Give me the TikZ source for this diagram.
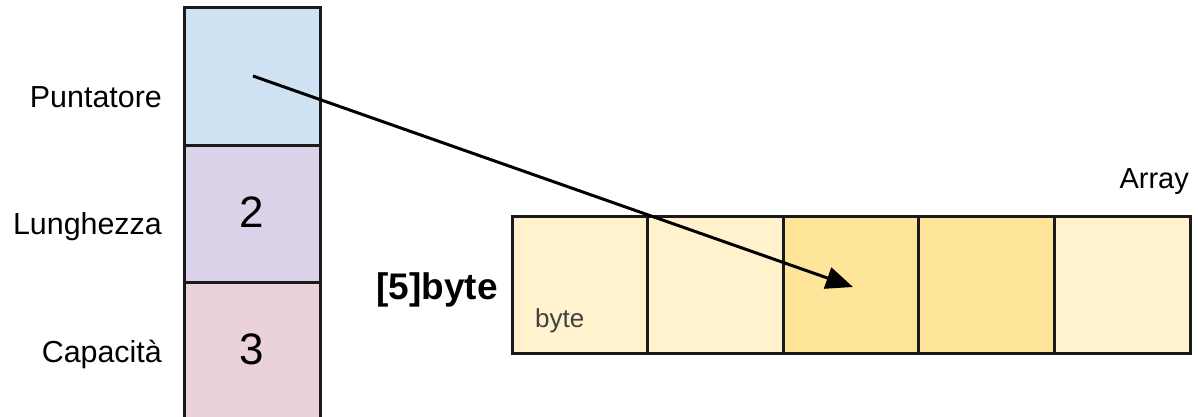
\documentclass[tikz,border=0pt]{standalone}
\usepackage{fontspec}
\setmainfont{Liberation Sans}
\usetikzlibrary{arrows.meta}
\definecolor{ptrblue}{HTML}{CFE2F3}
\definecolor{lenpurple}{HTML}{D9D2E9}
\definecolor{cappink}{HTML}{EAD1DC}
\definecolor{cellpale}{HTML}{FFF2CC}
\definecolor{cellgold}{HTML}{FFE599}
\definecolor{edge}{HTML}{1A1A1A}
\begin{document}
\begin{tikzpicture}[x=1pt,y=-1pt,
  field/.style={draw=edge,line width=3pt,minimum width=136pt,minimum height=137pt,inner sep=0pt,outer sep=0pt},
  cell/.style={draw=edge,line width=3pt,minimum width=135.6pt,minimum height=137pt,inner sep=0pt,outer sep=0pt},
  lbl/.style={inner sep=0pt,anchor=base east,font=\fontsize{30.4}{36}\selectfont},
  digit/.style={inner sep=0pt,anchor=base,font=\fontsize{44}{52}\selectfont},
  pointer/.style={draw=black,line width=3pt,-{Triangle[length=27pt,width=22pt]}}]
\useasboundingbox (0,0) rectangle (1198,417);
\clip (0,0) rectangle (1198,417);
\fill[white] (0,0) rectangle (1198,417);

% slice header: pointer, length, capacity
\node[field,fill=ptrblue]   (ptr) at (252,76.5) {};
\node[field,fill=lenpurple] (len) at (252,213.5) {};
\node[field,fill=cappink]   (cap) at (252,350.5) {};
\node[digit] (lenval) at (252,227) {2};
\node[digit] (capval) at (252,364) {3};

\node[lbl] (ptrlbl) at (162,107) {Puntatore};
\node[lbl] (lenlbl) at (162,234) {Lunghezza};
\node[lbl] (caplbl) at (162,362) {Capacità};

% backing array of five bytes
\node[cell,fill=cellpale] (c1) at (579.8,284.5) {};
\node[cell,fill=cellpale] (c2) at (715.4,284.5) {};
\node[cell,fill=cellgold] (c3) at (851.0,284.5) {};
\node[cell,fill=cellgold] (c4) at (986.6,284.5) {};
\node[cell,fill=cellpale] (c5) at (1122.2,284.5) {};

\node[inner sep=0pt,anchor=base west,font=\fontsize{26}{30}\selectfont,text=black!75] (bytelbl) at (535,327) {byte};
\node[inner sep=0pt,anchor=base east,font=\bfseries\fontsize{37}{44}\selectfont] (typelbl) at (498,299) {[5]byte};
\node[inner sep=0pt,anchor=base east,font=\fontsize{29}{34}\selectfont] (arrlbl) at (1189,188) {Array};

% pointer into the array
\coordinate (from) at (253,76);
\coordinate (to) at (853,287);
\draw[pointer] (from) -- (to);
\end{tikzpicture}
\end{document}
